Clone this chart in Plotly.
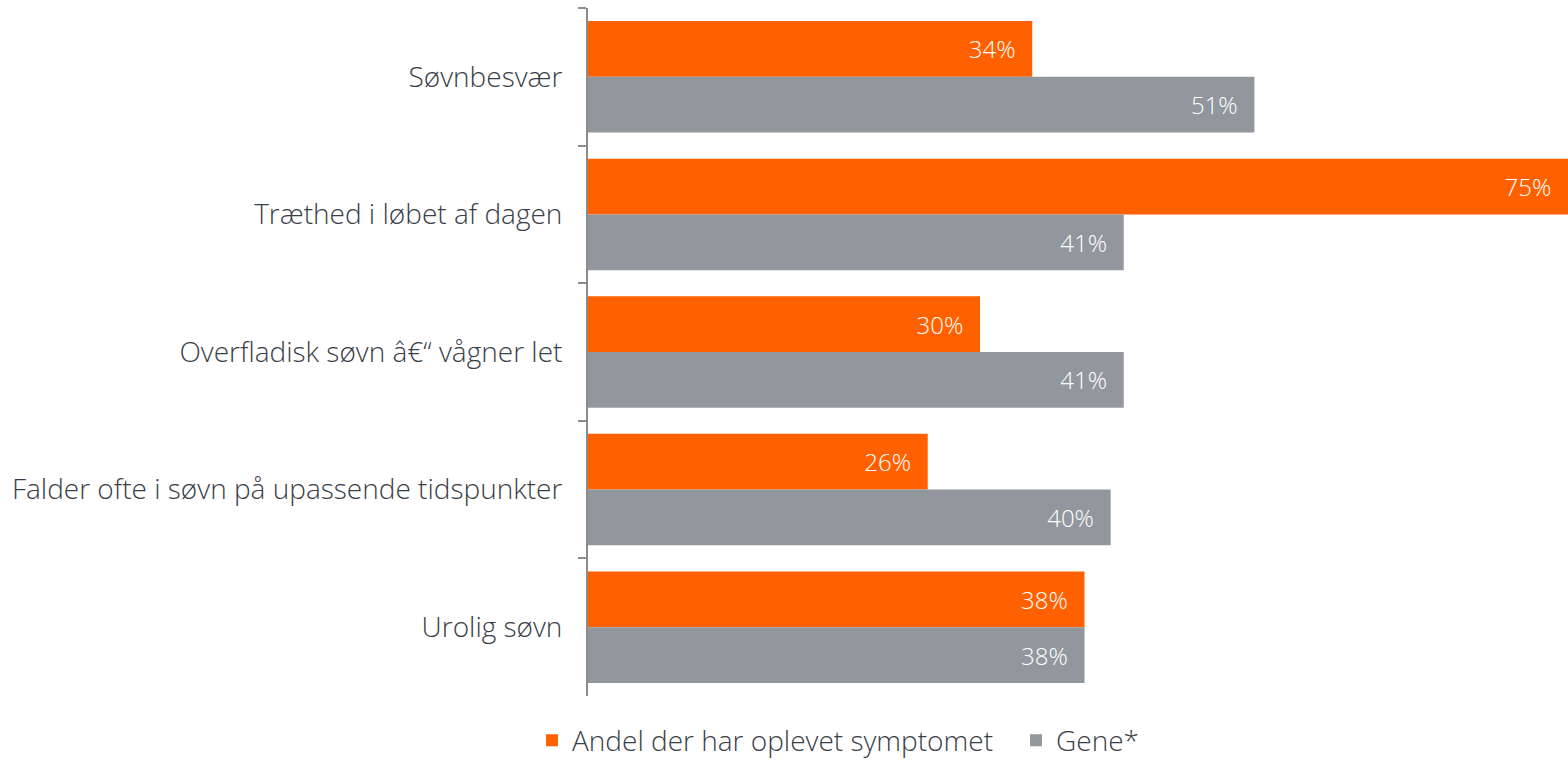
import plotly.graph_objects as go

categories = ["Søvnbesvær", "Træthed i løbet af dagen", "Overfladisk søvn \u00e2\u20ac\u201c vågner let",
              "Falder ofte i søvn på upassende tidspunkter", "Urolig søvn"]
oplevet = [34, 75, 30, 26, 38]
gene = [51, 41, 41, 40, 38]
series_names = ["Andel der har oplevet symptomet", "Gene*"]

ORANGE = "#FF6100"
GREY = "#91979C"
FONT = "Open Sans"
TXT = "#3A4047"

fig = go.Figure()
for name, vals, col in [(series_names[0], oplevet, ORANGE), (series_names[1], gene, GREY)]:
    fig.add_trace(go.Bar(
        y=categories, x=vals, name=name, orientation="h",
        marker=dict(color=col, line=dict(width=0)),
        text=[f"{v}%\u2007" for v in vals], textposition="inside", insidetextanchor="end",
        textfont=dict(family=FONT, size=24, color="white", weight=300),
        cliponaxis=False,
    ))

fig.update_layout(
    width=1568, height=762,
    barmode="group", bargap=0.19, bargroupgap=0,
    margin=dict(l=588, r=0, t=8, b=66, autoexpand=False),
    paper_bgcolor="white", plot_bgcolor="white",
    font=dict(family=FONT, size=28, color=TXT, weight=300),
    legend=dict(orientation="h", xref="container", x=0.3393, xanchor="left",
                yref="container", y=0.028, yanchor="middle",
                font=dict(family=FONT, size=28, color=TXT, weight=300),
                traceorder="normal", itemwidth=30, entrywidth=439,
                bgcolor="rgba(0,0,0,0)"),
    xaxis=dict(range=[0, 75], visible=False, showgrid=False, zeroline=False),
    yaxis=dict(autorange="reversed", showline=True, linecolor="#8C8C8C", linewidth=2,
               ticks="outside", ticklen=8, tickcolor="#8C8C8C", tickwidth=2,
               tickson="boundaries", ticklabelstandoff=18, showgrid=False,
               tickfont=dict(family=FONT, size=28, color=TXT, weight=300)),
    showlegend=True,
)

fig.write_html("out.html", config={"displayModeBar": False},
               post_script="document.body.style.margin='0';document.body.style.overflow='hidden';")
